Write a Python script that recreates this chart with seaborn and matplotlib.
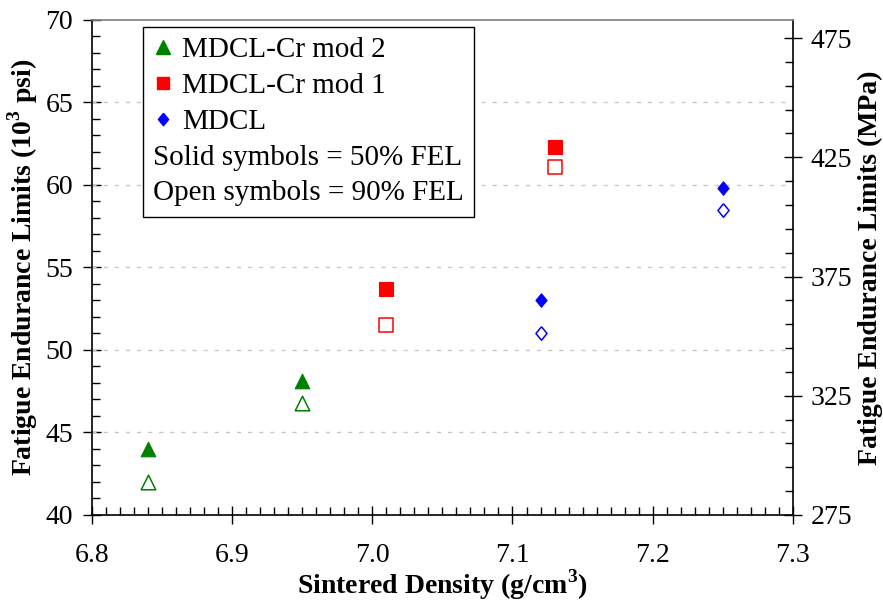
import numpy as np
import pandas as pd
import matplotlib
matplotlib.use("Agg")
import matplotlib.pyplot as plt
from matplotlib.ticker import MultipleLocator, FixedLocator
from matplotlib.lines import Line2D
import seaborn as sns

# Sintered density (g/cm^3) and fatigue endurance limits (10^3 psi)
mod2_density = [6.84, 6.95]
mod2_fel50 = [44.0, 48.1]
mod2_fel90 = [42.0, 46.8]

mod1_density = [7.01, 7.13]
mod1_fel50 = [53.7, 62.3]
mod1_fel90 = [51.5, 61.1]

mdcl_density = [7.12, 7.25]
mdcl_fel50 = [53.0, 59.8]
mdcl_fel90 = [51.0, 58.5]

series_names = ["MDCL-Cr mod 2", "MDCL-Cr mod 1", "MDCL"]
x_ticks = [6.8, 6.9, 7.0, 7.1, 7.2, 7.3]
y_ticks = [40, 45, 50, 55, 60, 65, 70]
mpa_ticks = [275, 325, 375, 425, 475]
KSI_TO_MPA = 6.894757

sns.set_theme(style="white")
plt.rcParams["font.family"] = ["Liberation Serif", "DejaVu Serif"]
plt.rcParams["mathtext.fontset"] = "custom"
plt.rcParams["mathtext.rm"] = "Liberation Serif"
plt.rcParams["mathtext.bf"] = "Liberation Serif:bold"
for key in ["text.color", "axes.labelcolor", "xtick.color", "ytick.color",
            "axes.edgecolor"]:
    plt.rcParams[key] = "black"

frames = []
for name, dens, s50, s90 in [
    (series_names[0], mod2_density, mod2_fel50, mod2_fel90),
    (series_names[1], mod1_density, mod1_fel50, mod1_fel90),
    (series_names[2], mdcl_density, mdcl_fel50, mdcl_fel90),
]:
    frames.append(pd.DataFrame({"series": name, "density": dens, "FEL": "50%", "ksi": s50}))
    frames.append(pd.DataFrame({"series": name, "density": dens, "FEL": "90%", "ksi": s90}))
df = pd.concat(frames, ignore_index=True)

colors = {"MDCL-Cr mod 2": "#008000", "MDCL-Cr mod 1": "#ff0000", "MDCL": "#0000ff"}
diamond = [(0, 1), (0.82, 0), (0, -1), (-0.82, 0), (0, 1)]
markers = {"MDCL-Cr mod 2": "^", "MDCL-Cr mod 1": "s", "MDCL": diamond}
sizes = {"MDCL-Cr mod 2": 110, "MDCL-Cr mod 1": 110, "MDCL": 95}

fig = plt.figure(figsize=(8.83, 6.03), dpi=100)
ax = fig.add_axes([0.104, 0.146, 0.794, 0.821])

for name in series_names:
    sub = df[df["series"] == name]
    solid = sub[sub["FEL"] == "50%"]
    hollow = sub[sub["FEL"] == "90%"]
    sns.scatterplot(data=solid, x="density", y="ksi", marker=markers[name],
                    s=sizes[name], color=colors[name], edgecolor=colors[name],
                    linewidth=0.8, ax=ax, zorder=3, legend=False)
    sns.scatterplot(data=hollow, x="density", y="ksi", marker=markers[name],
                    s=sizes[name], facecolor="white", edgecolor=colors[name],
                    linewidth=1.1, ax=ax, zorder=3, legend=False)

ax.set_xlim(6.8, 7.3)
ax.set_ylim(40, 70)
ax.set_xticks(x_ticks)
ax.set_xticklabels([f"{v:.1f}" for v in x_ticks])
ax.set_yticks(y_ticks)
ax.xaxis.set_minor_locator(MultipleLocator(0.01))
ax.yaxis.set_minor_locator(MultipleLocator(1))

for yv in y_ticks[1:-1]:
    ax.axhline(yv, color="#c8c8c8", lw=1.0, ls=(0, (3, 5)), zorder=1)

ax.tick_params(axis="both", which="major", direction="inout", length=13,
               width=1, colors="black", labelsize=20, pad=7)
ax.tick_params(axis="x", which="major", pad=14)
ax.tick_params(axis="both", which="minor", direction="in", length=6, width=1,
               colors="black")
ax.tick_params(axis="y", which="both", left=True)
ax.tick_params(axis="x", which="both", bottom=True)

for side in ["left", "bottom", "right"]:
    ax.spines[side].set_color("black")
    ax.spines[side].set_linewidth(1.2)
ax.spines["top"].set_color("#808080")
ax.spines["top"].set_linewidth(1.2)

ax.set_xlabel(r"Sintered Density (g/cm$^{\mathbf{3}}$)", fontsize=20,
              fontweight="bold", labelpad=-1)
ax.set_ylabel(r"Fatigue Endurance Limits (10$^{\mathbf{3}}$ psi)", fontsize=20,
              fontweight="bold", labelpad=4)

ax2 = ax.twinx()
ax2.set_ylim(40 * KSI_TO_MPA, 70 * KSI_TO_MPA)
ax2.set_yticks(mpa_ticks)
ax2.yaxis.set_minor_locator(FixedLocator(np.arange(285, 483, 10)))
ax2.tick_params(axis="y", which="major", direction="inout", length=13, width=1,
                colors="black", labelsize=20, pad=6)
ax2.tick_params(axis="y", which="minor", direction="in", length=6, width=1,
                colors="black")
ax2.set_ylabel("Fatigue Endurance Limits (MPa)", fontsize=20, fontweight="bold",
               labelpad=4)
for sp in ax2.spines.values():
    sp.set_visible(False)

handles = [
    Line2D([], [], ls="none", marker="^", color=colors["MDCL-Cr mod 2"], markersize=10),
    Line2D([], [], ls="none", marker="s", color=colors["MDCL-Cr mod 1"], markersize=9),
    Line2D([], [], ls="none", marker=diamond, color=colors["MDCL"], markersize=9),
    Line2D([], [], ls="none"),
    Line2D([], [], ls="none"),
]
labels = series_names + ["Solid symbols = 50% FEL", "Open symbols = 90% FEL"]
leg = ax.legend(handles, labels, loc="upper left", bbox_to_anchor=(0.073, 0.986),
                borderaxespad=0, fontsize=21, frameon=True, fancybox=False,
                handlelength=0.65, handletextpad=0.35, labelspacing=0.32,
                borderpad=0.35, edgecolor="black", framealpha=1)
leg.get_frame().set_linewidth(1.0)
# the two note rows carry no symbol, so let their text start at the key column
col = leg._legend_handle_box.get_children()[0]
for row in col.get_children()[3:]:
    da, ta = row.get_children()
    da.width = 0
    row.sep = 0

fig.savefig("out.png", dpi=100)
